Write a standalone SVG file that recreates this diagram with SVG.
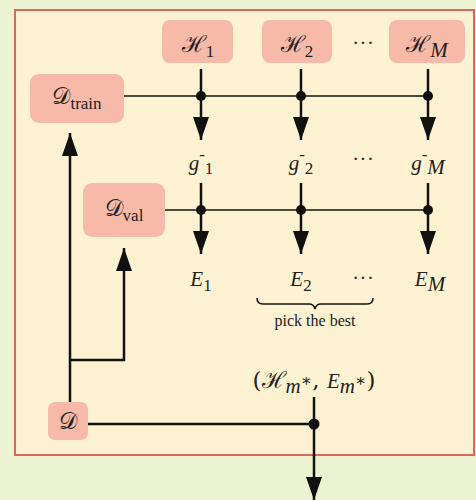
<svg xmlns="http://www.w3.org/2000/svg" width="476" height="500" viewBox="0 0 476 500">
<defs>
<style>
.node{fill:#f7b9a8;}
.ln{stroke:#111;stroke-width:2.5;fill:none;}
.thin{stroke:#111;stroke-width:1.5;fill:none;}
.t{font-family:"DejaVu Serif","Liberation Serif",serif;font-size:23px;fill:#222;}
.m{font-family:"Liberation Serif","DejaVu Serif",serif;font-style:italic;font-size:21px;fill:#222;}
.r{font-family:"Liberation Serif","DejaVu Serif",serif;font-style:normal;font-size:17px;fill:#222;}
.s{font-family:"Liberation Serif","DejaVu Serif",serif;font-style:normal;font-size:16px;fill:#222;}
.dots{font-family:"Liberation Serif",serif;font-size:22px;fill:#333;}
</style>
<marker id="ah" viewBox="0 0 23 16" refX="23" refY="8" markerWidth="23" markerHeight="16" markerUnits="userSpaceOnUse" orient="auto">
<path d="M0,0 L23,8 L0,16 Z" fill="#111"/>
</marker>
</defs>
<rect x="0" y="0" width="476" height="500" fill="#ebf3d2"/>
<rect x="15" y="10" width="459" height="445" fill="#fdf2d2" stroke="#e0655a" stroke-width="2"/>

<g id="connectors">
<line class="thin" x1="124" y1="96" x2="428" y2="96"/>
<line class="thin" x1="165" y1="210" x2="428" y2="210"/>
<line class="ln" x1="201" y1="69" x2="201" y2="140" marker-end="url(#ah)"/>
<line class="ln" x1="301" y1="69" x2="301" y2="140" marker-end="url(#ah)"/>
<line class="ln" x1="428" y1="69" x2="428" y2="140" marker-end="url(#ah)"/>
<line class="ln" x1="201" y1="183" x2="201" y2="254" marker-end="url(#ah)"/>
<line class="ln" x1="301" y1="183" x2="301" y2="254" marker-end="url(#ah)"/>
<line class="ln" x1="428" y1="183" x2="428" y2="254" marker-end="url(#ah)"/>
<circle cx="201" cy="96" r="5" fill="#111"/>
<circle cx="301" cy="96" r="5" fill="#111"/>
<circle cx="428" cy="96" r="5" fill="#111"/>
<circle cx="201" cy="210" r="5" fill="#111"/>
<circle cx="301" cy="210" r="5" fill="#111"/>
<circle cx="428" cy="210" r="5" fill="#111"/>
<line class="ln" x1="70" y1="402" x2="70" y2="133" marker-end="url(#ah)"/>
<polyline class="ln" points="70,360 124,360 124,248" marker-end="url(#ah)"/>
<line class="ln" x1="88" y1="424" x2="314" y2="424"/>
<line class="ln" x1="314" y1="397" x2="314" y2="500" marker-end="url(#ah)"/>
<circle cx="314" cy="424" r="5.5" fill="#111"/>
<path class="thin" d="M257,298 Q257,304 263,304 L309,304 Q314,304 315,309 Q316,304 321,304 L367,304 Q373,304 373,298"/>
</g>

<g id="H1"><rect class="node" x="162" y="20" width="71" height="43" rx="8"/><text class="t" x="198" y="52" text-anchor="middle">ℋ<tspan class="r" dy="5">1</tspan></text></g>
<g id="H2"><rect class="node" x="262" y="20" width="70" height="43" rx="8"/><text class="t" x="297" y="52" text-anchor="middle">ℋ<tspan class="r" dy="5">2</tspan></text></g>
<g id="HM"><rect class="node" x="389" y="20" width="76" height="43" rx="8"/><text class="t" x="427" y="52" text-anchor="middle">ℋ<tspan class="m" font-size="17" dy="5">M</tspan></text></g>
<text class="dots" x="363" y="50" text-anchor="middle">···</text>

<g id="Dtrain"><rect class="node" x="30" y="74" width="94" height="49" rx="9"/><text class="t" x="77" y="104" text-anchor="middle">𝒟<tspan class="r" dy="5">train</tspan></text></g>
<g id="Dval"><rect class="node" x="83" y="183" width="82" height="54" rx="9"/><text class="t" x="124" y="216" text-anchor="middle">𝒟<tspan class="r" dy="5">val</tspan></text></g>
<g id="D"><rect class="node" x="48" y="402" width="40" height="38" rx="7"/><text class="t" x="68" y="429" text-anchor="middle" font-size="19">𝒟</text></g>

<g id="labels">
<text class="m" x="201" y="170" text-anchor="middle">g<tspan class="r" font-size="10" dy="-10">-</tspan><tspan class="r" dy="14">1</tspan></text>
<text class="m" x="301" y="170" text-anchor="middle">g<tspan class="r" font-size="10" dy="-10">-</tspan><tspan class="r" dy="14">2</tspan></text>
<text class="m" x="428" y="170" text-anchor="middle">g<tspan class="r" font-size="10" dy="-10">-</tspan><tspan class="m" font-size="17" dy="14">M</tspan></text>
<text class="dots" x="363" y="166" text-anchor="middle">···</text>
<text class="m" x="201" y="286" text-anchor="middle">E<tspan class="r" dy="5">1</tspan></text>
<text class="m" x="301" y="286" text-anchor="middle">E<tspan class="r" dy="5">2</tspan></text>
<text class="m" x="430" y="286" text-anchor="middle">E<tspan class="m" font-size="17" dy="5">M</tspan></text>
<text class="dots" x="363" y="285" text-anchor="middle">···</text>
<text class="s" x="315" y="326" text-anchor="middle">pick the best</text>
<text class="t" x="314" y="388" text-anchor="middle" font-size="21">(ℋ<tspan class="m" font-size="17" dy="5">m</tspan><tspan class="r" font-size="12" dy="-7">∗</tspan><tspan dy="2">, </tspan><tspan class="m" font-size="21">E</tspan><tspan class="m" font-size="17" dy="5">m</tspan><tspan class="r" font-size="12" dy="-7">∗</tspan><tspan dy="2">)</tspan></text>
</g>
</svg>
